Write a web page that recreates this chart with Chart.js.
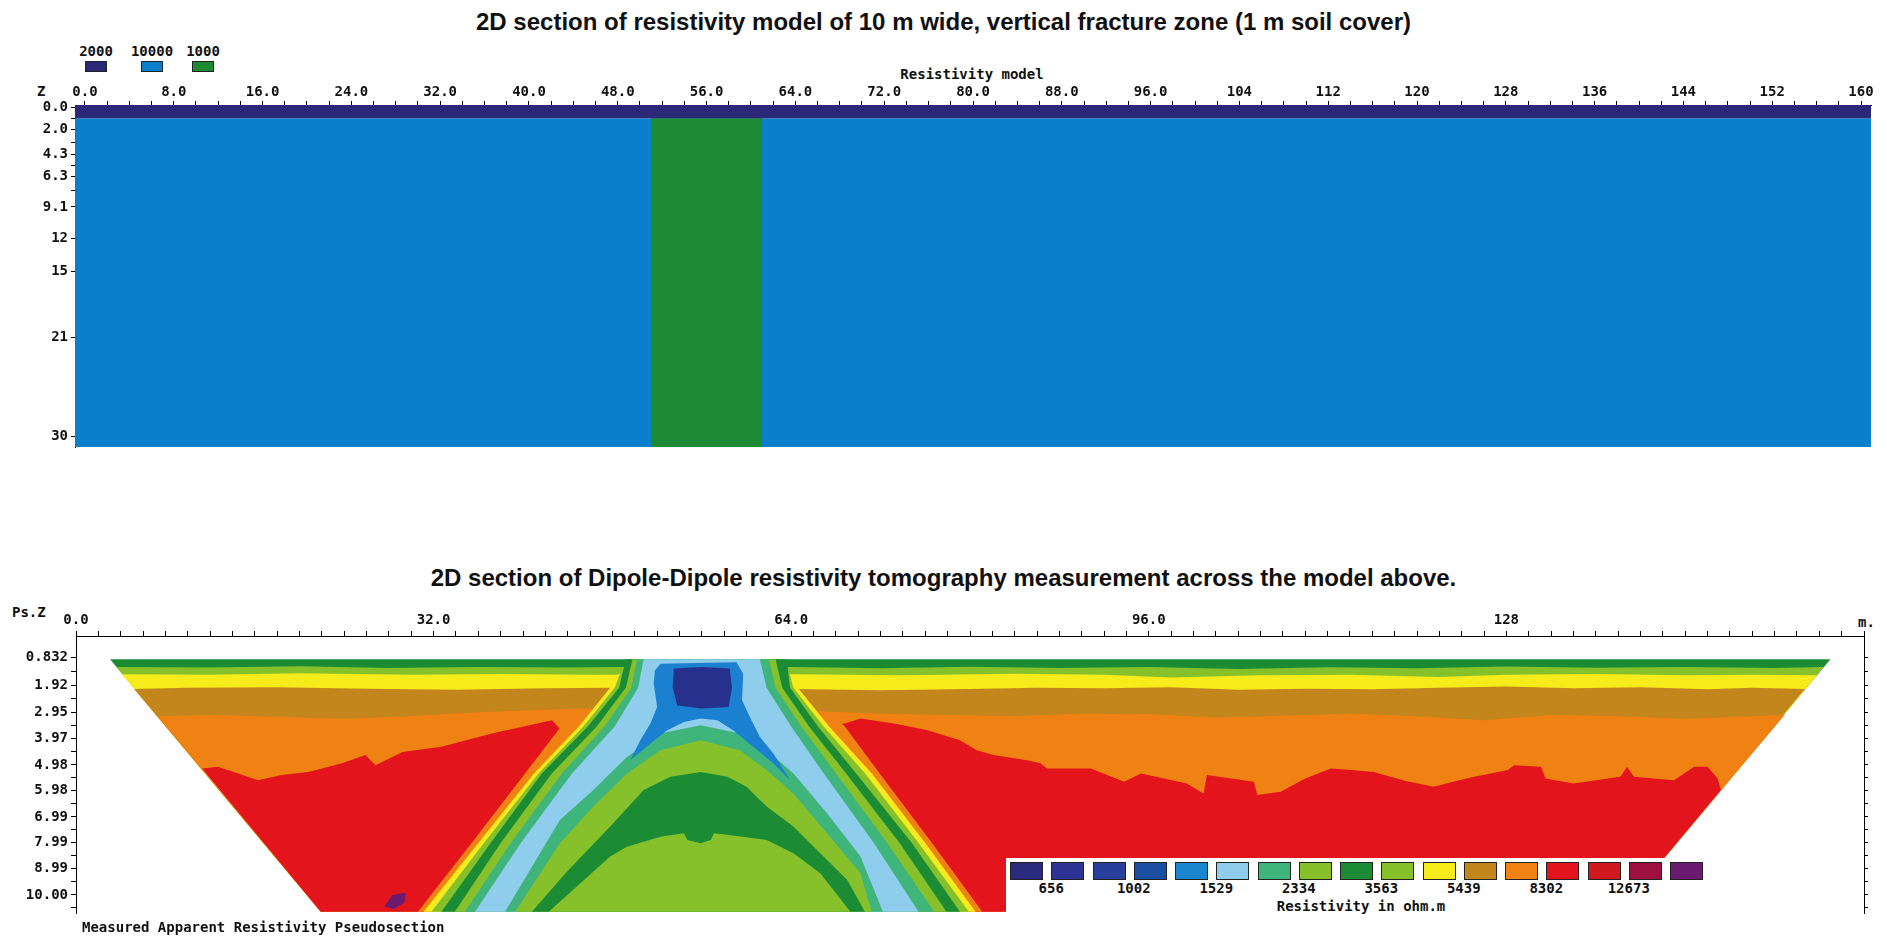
<!DOCTYPE html>
<html>
<head>
<meta charset="utf-8">
<title>Resistivity model and pseudosection</title>
<script src="https://cdn.jsdelivr.net/npm/chart.js@4.4.1/dist/chart.umd.min.js"></script>
<style>
  body { margin: 0; background: #fff; }
  #page { position: relative; width: 1887px; height: 937px; overflow: hidden; }
  .t { position: absolute; white-space: nowrap; font-family: 'DejaVu Sans Mono', monospace; font-weight: bold; font-size: 14px; line-height: 16px; color: #111; }
  .title { position: absolute; left: 0; width: 1887px; text-align: center; font-family: 'Liberation Sans', Arial, sans-serif; font-weight: bold; font-size: 24px; line-height: 26px; color: #111; }
  .box { position: absolute; box-sizing: border-box; border: 1px solid #222; }
</style>
</head>
<body>
<div id="page">
  <div class="title" style="top:9px">2D section of resistivity model of 10 m wide, vertical fracture zone (1 m soil cover)</div>
  <div id="legendTop"></div>
  <div class="t" style="left:37px;top:83px">Z</div>
  <div class="t" style="left:972px;top:66px;transform:translateX(-50%)">Resistivity model</div>
  <div style="position:absolute;left:0;top:0;width:1887px;height:460px"><canvas id="modelChart"></canvas></div>

  <div class="title" style="top:565px">2D section of Dipole-Dipole resistivity tomography measurement across the model above.</div>
  <div class="t" style="left:12px;top:604px">Ps.Z</div>
  <div class="t" style="left:1858px;top:614px">m.</div>
  <div style="position:absolute;left:0;top:600px;width:1887px;height:337px"><canvas id="pseudoChart"></canvas></div>
  <div id="colorBar" style="position:absolute;left:1006px;top:858px;width:716px;height:62px;background:#fff"></div>
  <div class="t" style="left:82px;top:919px">Measured Apparent Resistivity Pseudosection</div>
</div>

<script>
// ---------- modelo (arriba) ----------
const modelRes = ['2000', '10000', '1000'];
const modelColors = ['#2c2878', '#0a80cc', '#1d8a34'];

// bloques del modelo en metros (x, profundidad)
const soilBlock = [[-0.9, -0.2], [160.9, -0.2], [160.9, 1.0], [-0.9, 1.0]];
const hostBlock = [[-0.9, 1.0], [160.9, 1.0], [160.9, 31], [-0.9, 31]];
const fractureBlock = [[51, 1.0], [61, 1.0], [61, 31], [51, 31]];

const modelXTickValues = [0, 8, 16, 24, 32, 40, 48, 56, 64, 72, 80, 88, 96, 104, 112, 120, 128, 136, 144, 152, 160];
const modelXTickText = ['0.0', '8.0', '16.0', '24.0', '32.0', '40.0', '48.0', '56.0', '64.0', '72.0', '80.0', '88.0', '96.0', '104', '112', '120', '128', '136', '144', '152', '160'];
const modelDepthTicks = [0, 1.0, 2.0, 3.2, 4.3, 5.3, 6.3, 7.6, 9.1, 12, 15, 21, 30];
const modelDepthText = ['0.0', '', '2.0', '', '4.3', '', '6.3', '', '9.1', '12', '15', '21', '30'];

// ---------- pseudoseccion (abajo) ----------
const pseudoXTickValues = [0, 32, 64, 96, 128];
const pseudoXTickText = ['0.0', '32.0', '64.0', '96.0', '128'];
const pseudoDepthTicks = [0.832, 1.37, 1.92, 2.43, 2.95, 3.46, 3.97, 4.47, 4.98, 5.48, 5.98, 6.48, 6.99, 7.49, 7.99, 8.49, 8.99, 9.5, 10.0, 10.5];
const pseudoDepthText = ['0.832', '', '1.92', '', '2.95', '', '3.97', '', '4.98', '', '5.98', '', '6.99', '', '7.99', '', '8.99', '', '10.00', ''];

// contorno de la seccion
const pseudoEdge = [[3.05, 0.9], [157.0, 0.9], [138.1, 10.65], [21.9, 10.65]];

// limites superiores de las capas horizontales
const lightGreenTop = [[3.6, 1.2], [12, 1.22], [20, 1.17], [28, 1.24], [36, 1.2], [44, 1.22], [48.5, 1.2], [64, 1.2], [72, 1.25], [80, 1.19], [88, 1.24], [96, 1.2], [104, 1.27], [112, 1.21], [120, 1.25], [128, 1.18], [136, 1.23], [144, 1.2], [152, 1.24], [156.4, 1.2]];
const yellowTop = [[4.1, 1.48], [12, 1.5], [20, 1.44], [30, 1.5], [38, 1.47], [46, 1.5], [64, 1.48], [74, 1.52], [84, 1.46], [92, 1.5], [98, 1.6], [106, 1.52], [114, 1.5], [122, 1.58], [128, 1.5], [136, 1.47], [144, 1.52], [150, 1.5], [155.8, 1.52]];
const brownTop = [[5.2, 2.05], [10, 2.0], [18, 1.98], [26, 2.04], [34, 2.08], [42, 2.02], [48, 2.0], [64, 2.05], [72, 2.1], [80, 2.05], [86, 2.0], [92, 2.02], [98, 1.98], [104, 2.08], [110, 2.04], [116, 2.06], [122, 2.0], [128, 1.95], [134, 2.02], [140, 1.98], [146, 2.06], [150, 2.0], [154.7, 2.05]];
const orangeTop = [[7.3, 3.1], [12, 3.05], [18, 3.12], [24, 3.2], [30, 3.1], [36, 2.95], [42, 2.85], [46, 2.8], [66, 2.9], [72, 3.0], [78, 3.05], [84, 3.1], [90, 3.0], [96, 3.02], [102, 3.15], [108, 3.08], [114, 3.0], [120, 3.1], [126, 3.25], [132, 3.05], [138, 3.1], [144, 3.2], [150, 3.1], [152.9, 3.05]];
const redTop = [[11.3, 5.12], [12.7, 5.05], [16.3, 5.57], [18.4, 5.37], [20.8, 5.25], [23.8, 4.92], [25.9, 4.6], [26.8, 4.99], [29.2, 4.48], [32.7, 4.28], [37.2, 3.77], [42.6, 3.25], [43.3, 3.58], [45, 3.45], [67, 3.4],
  [68.8, 3.38], [70.2, 3.19], [73.2, 3.38], [76.2, 3.64], [79.1, 4.03], [80.6, 4.41], [82.1, 4.6], [85.1, 4.8], [86.3, 4.92], [86.9, 5.12], [90.8, 5.12], [93.8, 5.63], [95.3, 5.31], [99.4, 5.7], [100.9, 6.08], [101.2, 5.37], [105.4, 5.63], [105.7, 6.14], [107.8, 6.02], [110, 5.5], [112.3, 5.12], [114.1, 5.18], [116.1, 5.25], [119, 5.6], [121.5, 5.82], [123.5, 5.6], [125.1, 5.44], [126.6, 5.31], [128.1, 5.18], [128.7, 4.99], [131.1, 5.05], [131.5, 5.5], [134, 5.7], [138.2, 5.44], [138.8, 5.05], [139.4, 5.44], [143, 5.57], [144.8, 5.05], [146, 5.05], [146.9, 5.5], [147.2, 5.95]];
const purpleSpot = [[27.6, 10.45], [28.3, 10.0], [29.5, 9.92], [29.4, 10.3], [28.4, 10.55]];

// brazos de la anomalia: [x izquierda, x derecha, profundidad]
const armOrange = [[44.6, 67.6, 3.0], [43.4, 68.8, 3.5], [40.2, 71.9, 5.3], [35.4, 76.6, 8.0], [30.6, 81.1, 10.65]];
const armYellow = [[48.6, 63.9, 1.46], [47.8, 64.6, 2.0], [45.0, 67.4, 3.5], [41.0, 71.2, 5.3], [36.0, 76.0, 8.0], [31.1, 80.5, 10.65]];
const armLightGreen2 = [[48.9, 63.7, 1.2], [48.2, 64.2, 2.0], [45.4, 66.9, 3.5], [41.4, 70.6, 5.3], [36.5, 75.4, 8.0], [31.8, 79.9, 10.65]];
const armDarkGreen = [[49.2, 63.6, 0.9], [48.6, 63.9, 2.0], [45.8, 66.4, 3.5], [41.7, 69.8, 5.3], [37.1, 74.8, 8.0], [32.7, 79.1, 10.65]];
const armLightGreen = [[49.8, 62.6, 0.9], [49.2, 63.2, 2.0], [46.6, 65.6, 3.5], [42.6, 68.9, 5.3], [38.0, 73.7, 8.0], [33.9, 77.9, 10.65]];
const armTeal = [[50.2, 62.0, 0.9], [49.7, 62.6, 2.0], [47.3, 64.9, 3.5], [43.5, 68.0, 5.3], [38.9, 72.6, 8.0], [34.8, 76.8, 10.65]];
const armLightBlue = [[50.8, 61.2, 0.9], [50.3, 61.8, 2.0], [48.2, 64.0, 3.5], [44.4, 66.9, 5.3], [39.8, 71.4, 8.0], [35.7, 75.4, 10.65]];

// forma en Λ bajo la fractura
const lambdaTeal = [[38.4, 10.65], [43.3, 7.11], [46.3, 5.95], [49.3, 4.67], [52.3, 3.77], [55.9, 3.45], [59.4, 3.77], [61.8, 4.41], [64.2, 5.31], [67.2, 6.85], [70.2, 8.52], [72.2, 10.65]];
const lambdaLightGreen = [[39.3, 10.65], [43.3, 8.01], [46.3, 6.59], [49.3, 5.31], [52.3, 4.41], [55.9, 4.03], [59.4, 4.41], [61.8, 5.18], [64.2, 6.08], [67.2, 7.62], [70.2, 9.16], [71.2, 10.65]];
const lambdaDarkGreen = [[40.8, 10.65], [43.8, 9.16], [47.8, 7.36], [50.8, 5.95], [53.2, 5.44], [55.9, 5.25], [58.3, 5.44], [60.0, 5.82], [61.8, 6.59], [64.2, 7.36], [66.6, 8.39], [69.0, 9.42], [70.6, 10.65]];
const coreLightGreen = [[42.3, 10.65], [47.8, 8.52], [49.3, 8.14], [52.3, 7.75], [54.4, 7.62], [54.7, 7.88], [55.9, 8.01], [56.8, 7.88], [57.1, 7.62], [59.7, 7.75], [61.8, 7.88], [64.2, 8.39], [66.6, 9.16], [69.3, 10.65]];

// zona conductora arriba
const blueZone = [[52.3, 1.07], [59.1, 1.01], [59.7, 1.46], [59.6, 2.48], [60.3, 3.13], [61.2, 3.9], [62.4, 4.54], [63.9, 5.57], [62.4, 4.92], [60.6, 4.28], [58.8, 3.64], [57.4, 3.25], [55.9, 3.19], [54.4, 3.32], [52.9, 3.64], [51.4, 4.15], [49.6, 4.8], [50.5, 4.03], [51.4, 3.38], [52.0, 2.74], [51.7, 1.84], [51.8, 1.33]];
const navyZone = [[53.5, 1.26], [56, 1.2], [58.5, 1.26], [58.7, 2.0], [58.4, 2.74], [56, 2.8], [53.8, 2.68], [53.4, 2.0]];

// escala de colores
const scaleColors = ['#2a2a7e', '#2e3393', '#283f9b', '#1b4fa2', '#1b86cf', '#8ecdec', '#3fb47b', '#86c12c', '#1c8c34', '#86c12c', '#f6eb1b', '#c3861d', '#f08113', '#e3141b', '#d0191f', '#9d1040', '#6b1a6f'];
const scaleLabels = ['656', '1002', '1529', '2334', '3563', '5439', '8302', '12673'];

const C = {
  darkGreen: '#1c8c34', lightGreen: '#86c12c', yellow: '#f6eb1b', brown: '#c3861d',
  orange: '#f08113', red: '#e3141b', teal: '#3fb47b', lightBlue: '#8ecdec',
  blue: '#1a80cf', navy: '#28308e', purple: '#6b1a6f'
};

const tickFont = { family: 'DejaVu Sans Mono', size: 14, weight: 'bold' };

function poly(points, color) {
  return {
    data: points.map(p => ({ x: p[0], y: p[1] })),
    backgroundColor: color,
    borderWidth: 0,
    pointRadius: 0,
    tension: 0,
    fill: 'shape'
  };
}

function armShape(arm) {
  const left = arm.map(r => [r[0], r[2]]);
  const right = arm.map(r => [r[1], r[2]]).reverse();
  return left.concat(right);
}

function downTo(boundary) {
  return boundary.concat([pseudoEdge[2], pseudoEdge[3]]);
}

function lookup(values, texts) {
  return v => {
    const i = values.findIndex(a => Math.abs(a - v) < 1e-6);
    return i >= 0 ? texts[i] : '';
  };
}

// el primero queda abajo (chart.js pinta el ultimo primero, por eso reverse)
const modelSets = [
  poly(hostBlock, modelColors[1]),
  poly(fractureBlock, modelColors[2]),
  poly(soilBlock, modelColors[0])
].reverse();

new Chart(document.getElementById('modelChart'), {
  type: 'line',
  data: { datasets: modelSets },
  options: {
    responsive: true,
    maintainAspectRatio: false,
    animation: false,
    events: [],
    layout: { padding: { top: 85, left: 0, right: 16, bottom: 13 } },
    plugins: { legend: { display: false }, tooltip: { enabled: false } },
    scales: {
      x: {
        type: 'linear', position: 'top', min: -0.9, max: 160.9,
        afterFit: s => { s.height = 20; },
        border: { display: true, color: '#000' },
        grid: { drawOnChartArea: false, tickLength: 4, color: '#000' },
        ticks: { stepSize: 2, autoSkip: false, includeBounds: false, maxRotation: 0, padding: 0, font: tickFont, color: '#111',
          callback: lookup(modelXTickValues, modelXTickText) }
      },
      y: {
        type: 'linear', reverse: true, min: -0.2, max: 31,
        afterFit: s => { s.width = 75; },
        afterBuildTicks: s => { s.ticks = modelDepthTicks.map(v => ({ value: v })); },
        border: { display: true, color: '#000' },
        grid: { drawOnChartArea: false, tickLength: 4, color: '#000' },
        ticks: { autoSkip: false, padding: 3, font: tickFont, color: '#111',
          callback: lookup(modelDepthTicks, modelDepthText) }
      }
    }
  }
});

const pseudoSets = [
  poly(pseudoEdge, C.darkGreen),
  poly(downTo(lightGreenTop), C.lightGreen),
  poly(downTo(yellowTop), C.yellow),
  poly(downTo(brownTop), C.brown),
  poly(downTo(orangeTop), C.orange),
  poly(downTo(redTop), C.red),
  poly(purpleSpot, C.purple),
  poly(armShape(armOrange), C.orange),
  poly(armShape(armYellow), C.yellow),
  poly(armShape(armLightGreen2), C.lightGreen),
  poly(armShape(armDarkGreen), C.darkGreen),
  poly(armShape(armLightGreen), C.lightGreen),
  poly(armShape(armTeal), C.teal),
  poly(armShape(armLightBlue), C.lightBlue),
  poly(lambdaTeal, C.teal),
  poly(lambdaLightGreen, C.lightGreen),
  poly(lambdaDarkGreen, C.darkGreen),
  poly(coreLightGreen, C.lightGreen),
  poly(blueZone, C.blue),
  poly(navyZone, C.navy)
].reverse();

new Chart(document.getElementById('pseudoChart'), {
  type: 'line',
  data: { datasets: pseudoSets },
  options: {
    responsive: true,
    maintainAspectRatio: false,
    animation: false,
    events: [],
    layout: { padding: { top: 14, left: 0, right: 17, bottom: 24 } },
    plugins: { legend: { display: false }, tooltip: { enabled: false } },
    scales: {
      x: {
        type: 'linear', position: 'top', min: 0, max: 160,
        afterFit: s => { s.height = 22; },
        border: { display: true, color: '#000' },
        grid: { drawOnChartArea: false, tickLength: 5, color: '#000' },
        ticks: { stepSize: 2, autoSkip: false, includeBounds: false, maxRotation: 0, padding: 2, font: tickFont, color: '#111',
          callback: lookup(pseudoXTickValues, pseudoXTickText) }
      },
      y: {
        type: 'linear', reverse: true, min: 0, max: 10.7,
        afterFit: s => { s.width = 76; },
        afterBuildTicks: s => { s.ticks = pseudoDepthTicks.map(v => ({ value: v })); },
        border: { display: true, color: '#000' },
        grid: { drawOnChartArea: false, tickLength: 5, color: '#000' },
        ticks: { autoSkip: false, padding: 3, font: tickFont, color: '#111',
          callback: lookup(pseudoDepthTicks, pseudoDepthText) }
      },
      y2: {
        type: 'linear', position: 'right', reverse: true, min: 0, max: 10.7,
        afterFit: s => { s.width = 6; },
        afterBuildTicks: s => { s.ticks = pseudoDepthTicks.map(v => ({ value: v })); },
        border: { display: true, color: '#000' },
        grid: { drawOnChartArea: false, tickLength: 4, color: '#000' },
        ticks: { display: false }
      }
    }
  }
});

// leyenda del modelo
const legendTop = document.getElementById('legendTop');
const legendLeft = [85, 141, 192];
modelRes.forEach((txt, i) => {
  const lab = document.createElement('div');
  lab.className = 't';
  lab.style.left = (legendLeft[i] + 11) + 'px';
  lab.style.top = '43px';
  lab.style.transform = 'translateX(-50%)';
  lab.innerText = txt;
  legendTop.appendChild(lab);
  const b = document.createElement('div');
  b.className = 'box';
  b.style.left = legendLeft[i] + 'px';
  b.style.top = '61px';
  b.style.width = '22px';
  b.style.height = '11px';
  b.style.background = modelColors[i];
  legendTop.appendChild(b);
});

// barra de colores
const bar = document.getElementById('colorBar');
scaleColors.forEach((c, i) => {
  const b = document.createElement('div');
  b.className = 'box';
  b.style.left = (4 + i * 41.25) + 'px';
  b.style.top = '4px';
  b.style.width = '33px';
  b.style.height = '18px';
  b.style.background = c;
  bar.appendChild(b);
});
scaleLabels.forEach((txt, k) => {
  const lab = document.createElement('div');
  lab.className = 't';
  lab.style.left = (4 + (2 * k + 1) * 41.25) + 'px';
  lab.style.top = '22px';
  lab.style.transform = 'translateX(-50%)';
  lab.innerText = txt;
  bar.appendChild(lab);
});
const unit = document.createElement('div');
unit.className = 't';
unit.style.left = '355px';
unit.style.top = '40px';
unit.style.transform = 'translateX(-50%)';
unit.innerText = 'Resistivity in ohm.m';
bar.appendChild(unit);
</script>
</body>
</html>
